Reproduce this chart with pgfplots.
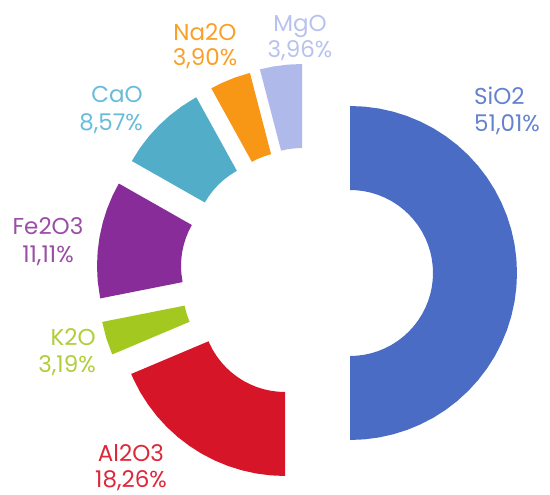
\documentclass[border=0pt]{standalone}
\usepackage{pgfplots}
\pgfplotsset{compat=1.18}
\usepackage{fontspec}
\setmainfont{Poppins}

\definecolor{csio}{RGB}{74,108,196}
\definecolor{cal}{RGB}{214,22,40}
\definecolor{ck}{RGB}{163,200,32}
\definecolor{cfe}{RGB}{136,44,154}
\definecolor{cca}{RGB}{82,174,200}
\definecolor{cna}{RGB}{248,150,22}
\definecolor{cmg}{RGB}{176,186,234}
\definecolor{tsio}{RGB}{100,130,206}
\definecolor{tal}{RGB}{220,40,56}
\definecolor{tna}{RGB}{250,160,40}
\definecolor{tca}{RGB}{104,188,218}
\definecolor{tfe}{RGB}{154,78,166}
\definecolor{tk}{RGB}{176,206,56}
\definecolor{tmg}{RGB}{184,194,238}

\tikzset{lbl/.style={font=\fontsize{23}{27}\selectfont, inner sep=0pt}}

% shares in %: SiO2 51.01, Al2O3 18.26, K2O 3.19, Fe2O3 11.11, CaO 8.57, Na2O 3.90, MgO 3.96
% SiO2 drawn as a half ring, the rest share the other half (3.674 deg per %)
% ring: outer radius 167, inner radius 83 (axis units = pt), points as (angle, radius)

\begin{document}
\begin{tikzpicture}
\begin{axis}[
  scale only axis, width=550pt, height=495pt,
  xmin=0, xmax=550, ymin=0, ymax=495,
  hide axis, clip=false,
  every axis plot/.append style={draw=none, data cs=polar}
]
% SiO2
\addplot[fill=csio, xshift=350pt, yshift=222pt] coordinates {
 (90,167) (85,167) (80,167) (75,167) (70,167) (65,167) (60,167) (55,167) (50,167) (45,167)
 (40,167) (35,167) (30,167) (25,167) (20,167) (15,167) (10,167) (5,167) (0,167)
 (-5,167) (-10,167) (-15,167) (-20,167) (-25,167) (-30,167) (-35,167) (-40,167) (-45,167)
 (-50,167) (-55,167) (-60,167) (-65,167) (-70,167) (-75,167) (-80,167) (-85,167) (-90,167)
 (-90,83) (-85,83) (-80,83) (-75,83) (-70,83) (-65,83) (-60,83) (-55,83) (-50,83) (-45,83)
 (-40,83) (-35,83) (-30,83) (-25,83) (-20,83) (-15,83) (-10,83) (-5,83) (0,83)
 (5,83) (10,83) (15,83) (20,83) (25,83) (30,83) (35,83) (40,83) (45,83)
 (50,83) (55,83) (60,83) (65,83) (70,83) (75,83) (80,83) (85,83) (90,83)
};
% Al2O3
\addplot[fill=cal, xshift=285pt, yshift=186pt] coordinates {
 (270,167) (265,167) (260,167) (255,167) (250,167) (245,167) (240,167) (235,167)
 (230,167) (225,167) (220,167) (215,167) (210,167) (205,167) (202.9,167)
 (202.9,83) (205,83) (210,83) (215,83) (220,83) (225,83) (230,83) (235,83)
 (240,83) (245,83) (250,83) (255,83) (260,83) (265,83) (270,83)
};
% K2O
\addplot[fill=ck, xshift=266pt, yshift=205.5pt] coordinates {
 (202.9,167) (197,167) (191.2,167) (191.2,83) (197,83) (202.9,83)
};
% Fe2O3
\addplot[fill=cfe, xshift=264pt, yshift=229pt] coordinates {
 (191.2,167) (185,167) (180,167) (175,167) (170,167) (165,167) (160,167) (155,167) (150.4,167)
 (150.4,83) (155,83) (160,83) (165,83) (170,83) (175,83) (180,83) (185,83) (191.2,83)
};
% CaO
\addplot[fill=cca, xshift=277pt, yshift=251.5pt] coordinates {
 (150.4,167) (145,167) (140,167) (135,167) (130,167) (125,167) (120,167) (118.9,167)
 (118.9,83) (120,83) (125,83) (130,83) (135,83) (140,83) (145,83) (150.4,83)
};
% Na2O
\addplot[fill=cna, xshift=292pt, yshift=260.5pt] coordinates {
 (118.9,167) (115,167) (110,167) (104.6,167) (104.6,83) (110,83) (115,83) (118.9,83)
};
% MgO
\addplot[fill=cmg, xshift=302pt, yshift=264pt] coordinates {
 (104.6,167) (100,167) (95,167) (90,167) (90,83) (95,83) (100,83) (104.6,83)
};

\path (axis cs:0,0) rectangle (axis cs:550,495);

% labels, one node per line, placed on their baselines
\node[lbl, text=tsio, anchor=base west] at (axis cs:474,390) {SiO2};
\node[lbl, text=tsio, anchor=base west] at (axis cs:474,363) {51,01\%};
\node[lbl, text=tna, anchor=base] at (axis cs:205,454) {Na2O};
\node[lbl, text=tna, anchor=base] at (axis cs:205,429) {3,90\%};
\node[lbl, text=tmg, anchor=base] at (axis cs:300,463) {MgO};
\node[lbl, text=tmg, anchor=base] at (axis cs:300,437) {3,96\%};
\node[lbl, text=tca, anchor=base east] at (axis cs:143,392) {CaO};
\node[lbl, text=tca, anchor=base east] at (axis cs:143,364) {8,57\%};
\node[lbl, text=tfe, anchor=base] at (axis cs:48,260) {Fe2O3};
\node[lbl, text=tfe, anchor=base] at (axis cs:48,232) {11,11\%};
\node[lbl, text=tk, anchor=base east] at (axis cs:96,149) {K2O};
\node[lbl, text=tk, anchor=base east] at (axis cs:96,122) {3,19\%};
\node[lbl, text=tal, anchor=base] at (axis cs:131,33) {Al2O3};
\node[lbl, text=tal, anchor=base] at (axis cs:131,7) {18,26\%};
\end{axis}
\end{tikzpicture}
\end{document}
